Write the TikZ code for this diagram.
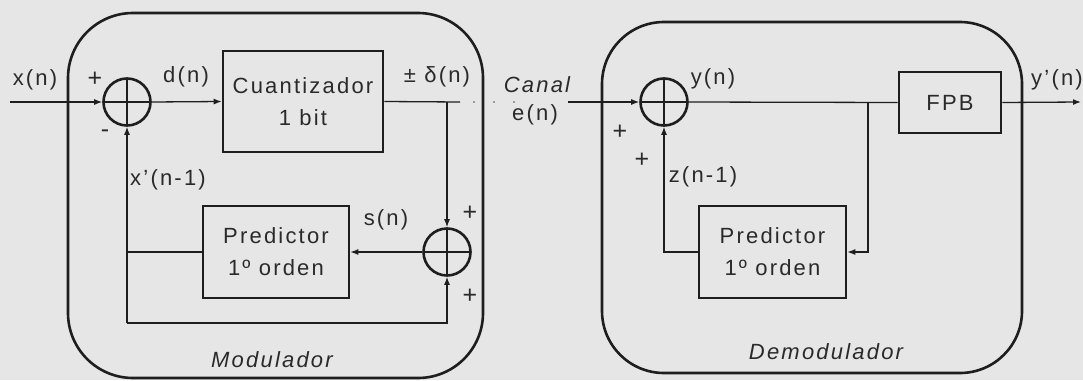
\documentclass[tikz,border=0pt]{standalone}
\usepackage{fontspec}
\setmainfont{Liberation Sans}[LetterSpace=10]
\usetikzlibrary{arrows.meta}
\definecolor{bg}{HTML}{E6E6E6}
\definecolor{ink}{HTML}{1E1E1E}
\definecolor{txt}{HTML}{2A2A2A}
\begin{document}
\begin{tikzpicture}[x=1pt,y=-1pt,
  every node/.style={text=txt, font=\fontsize{22}{32}\selectfont},
  blk/.style={draw=ink, line width=2.6pt, inner sep=0pt, align=center},
  sumc/.style={circle, draw=ink, line width=2.6pt, minimum size=47pt, inner sep=0pt,
    path picture={\draw[line width=2.6pt, ink]
      (path picture bounding box.north) -- (path picture bounding box.south)
      (path picture bounding box.west) -- (path picture bounding box.east);}},
  wire/.style={draw=ink, line width=1.3pt},
  arr/.style={wire, -{Latex[length=8pt,width=6pt]}},
  cont/.style={draw=ink, line width=2.6pt},
  lbl/.style={inner sep=0pt},
  sgn/.style={inner sep=0pt, font=\fontsize{25}{30}\selectfont},
  ital/.style={inner sep=0pt, font=\fontsize{22}{32}\selectfont\itshape},
]
\fill[bg] (0,0) rectangle (1083,380);
\useasboundingbox (0,0) rectangle (1083,380);

% containers
\draw[cont, rounded corners=65pt] (68,13) rectangle (483,378);
\draw[cont, rounded corners=62pt] (602,22) rectangle (1022,373);

% modulator
\node[sumc] (s1) at (127,102) {};
\node[blk, minimum width=160pt, minimum height=101pt] (q) at (303,101.5) {Cuantizador\\1 bit};
\node[sumc] (s2) at (447,252) {};
\node[blk, minimum width=146pt, minimum height=92pt] (p1) at (276,252) {Predictor\\1º orden};

\coordinate (xin) at (10,102);
\coordinate (br1) at (447,102);
\coordinate (dq) at (460,102);
\coordinate (d1) at (473,102);
\coordinate (d2) at (516,102);
\coordinate (ch) at (568,102);
\coordinate (bl) at (127,323);
\coordinate (br) at (447,323);

\draw[arr] (xin) -- (s1.west);
\draw[arr] (s1.east) -- (q.west);
\draw[wire] (q.east) -- (dq);
\draw[draw=ink!45, line width=1.6pt, dash pattern=on 2pt off 18pt] (d1) -- (d2);
\draw[arr] (br1) -- (s2.north);
\draw[arr] (s2.west) -- (p1.east);
\draw[wire] (p1.west) -- (p1.west -| bl);
\draw[arr] (bl) -- (s1.south);
\draw[arr] (bl) -- (br) -- (s2.south);

% demodulator
\node[sumc] (s3) at (664,102) {};
\node[blk, minimum width=102pt, minimum height=61pt] (f) at (950,102.5) {FPB};
\node[blk, minimum width=147pt, minimum height=92pt] (p2) at (772.5,252) {Predictor\\1º orden};
\coordinate (br2) at (868,102);
\coordinate (yout) at (1081,102);

\draw[arr] (ch) -- (s3.west);
\draw[wire] (s3.east) -- (f.west);
\draw[arr] (f.east) -- (yout);
\draw[arr] (br2) -- (br2 |- p2.east) -- (p2.east);
\draw[arr] (p2.west) -- (p2.west -| s3.south) -- (s3.south);

% labels
\node[lbl] (lx) at (35,80) {x(n)};
\node[sgn] (lp1) at (95,79) {+};
\node[sgn] (lm1) at (105,134) {-};
\node[lbl] (ld) at (186,77) {d(n)};
\node[lbl] (lxp) at (168,180) {x'(n-1)};
\node[lbl] (lde) at (437,77) {± δ(n)};
\node[ital] (lc) at (537,85) {Canal};
\node[lbl] (le) at (535,115) {e(n)};
\node[lbl] (ls) at (386,220) {s(n)};
\node[sgn] (lp2) at (470,213) {+};
\node[sgn] (lp3) at (470,296) {+};
\node[ital] (lmod) at (272,360) {Modulador};
\node[lbl] (ly) at (713,79) {y(n)};
\node[sgn] (lp4) at (620,132) {+};
\node[sgn] (lp5) at (642,160) {+};
\node[lbl] (lz) at (703,177) {z(n-1)};
\node[lbl] (lyp) at (1057,80) {y'(n)};
\node[ital] (ldem) at (826,352) {Demodulador};
\end{tikzpicture}
\end{document}
